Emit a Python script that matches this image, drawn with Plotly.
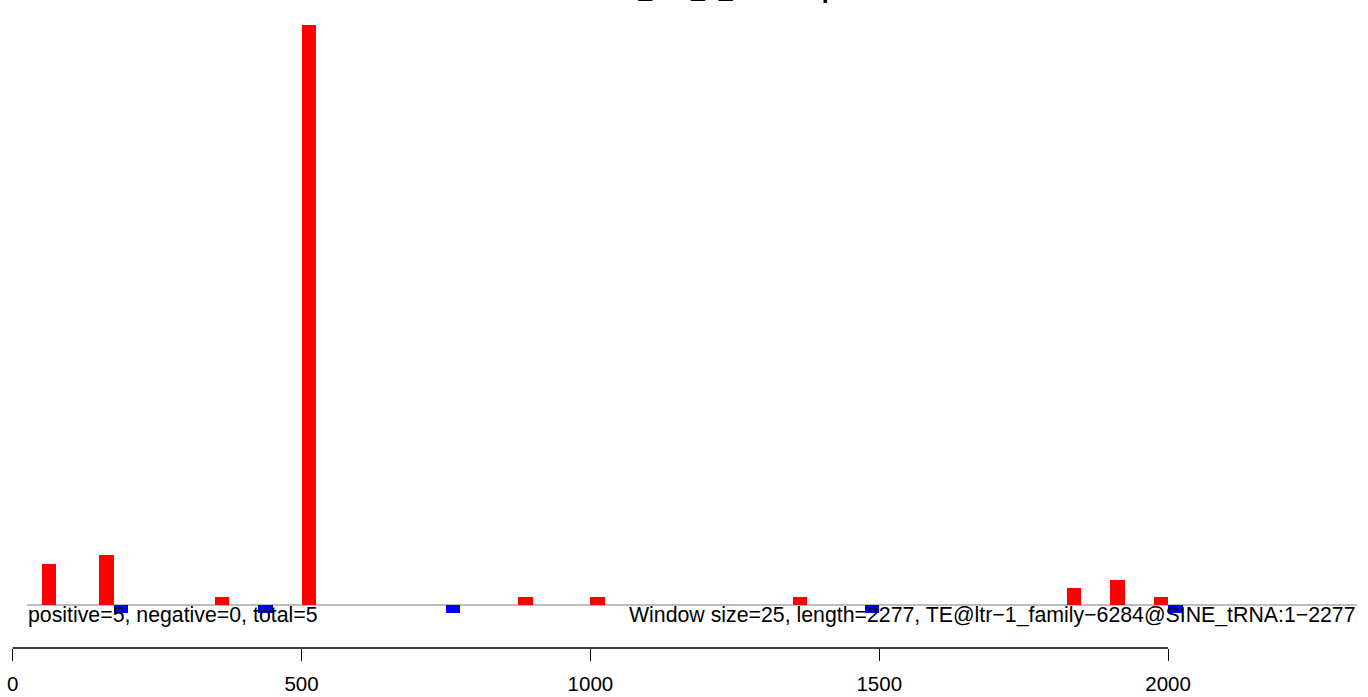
import plotly.graph_objects as go

# ---- data ----
window_size = 25
pos_starts = [50, 150, 350, 500, 875, 1000, 1350, 1825, 1900, 1975]
pos_values = [5, 6, 1, 70, 1, 1, 1, 2, 3, 1]
neg_starts = [175, 425, 750, 1475, 2000]
neg_values = [-1, -1, -1, -1, -1]
tick_values = [0, 500, 1000, 1500, 2000]
tick_labels = ["0", "500", "1000", "1500", "2000"]
title_text = "smRNA_WT_1_reads up"
left_note = "positive=5, negative=0, total=5"
right_note = "Window size=25, length=2277, TE@ltr\u22121_family\u22126284@SINE_tRNA:1\u22122277"
seq_length = 2277

pos_centers = [s + window_size / 2 for s in pos_starts]
neg_centers = [s + window_size / 2 for s in neg_starts]

W, H = 1368, 697
plot_bottom_px = 648          # axis line position
x0_px, scale = 12.7, 0.5777   # px of value 0, px per unit
x_range = [-x0_px / scale, (W - x0_px) / scale]
base_px = 605
y_unit = 8.29
y_range = [-(plot_bottom_px - base_px) / y_unit, base_px / y_unit]

def px_to_xval(px):
    return (px - x0_px) / scale

def py_to_paper(py):
    return (plot_bottom_px - py) / plot_bottom_px

fig = go.Figure()
fig.add_trace(go.Bar(x=pos_centers, y=pos_values, width=window_size,
                     marker=dict(color="#FF0000", line=dict(width=0)),
                     hoverinfo="skip", showlegend=False))
fig.add_trace(go.Bar(x=neg_centers, y=neg_values, width=window_size,
                     marker=dict(color="#0000FF", line=dict(width=0)),
                     hoverinfo="skip", showlegend=False))

# zero baseline across the plot region
fig.add_shape(type="line", xref="x", yref="y",
              x0=px_to_xval(27), x1=px_to_xval(1357), y0=0, y1=0,
              line=dict(color="#7a7a7a", width=1.2), layer="below")
# axis line from 0 to 2000
fig.add_shape(type="line", xref="x", yref="paper",
              x0=tick_values[0], x1=tick_values[-1], y0=0, y1=0,
              line=dict(color="black", width=1.4))

font_family = "Liberation Sans, Arial, Helvetica, sans-serif"
fig.add_annotation(x=px_to_xval(27), y=py_to_paper(614.6), xref="x", yref="paper",
                   text=left_note, showarrow=False, xanchor="left", yanchor="middle",
                   font=dict(family=font_family, size=21.3, color="black"), borderpad=0)
fig.add_annotation(x=px_to_xval(1357), y=py_to_paper(614.6), xref="x", yref="paper",
                   text=right_note, showarrow=False, xanchor="right", yanchor="middle",
                   font=dict(family=font_family, size=21.3, color="black"), borderpad=0)
fig.add_annotation(x=px_to_xval(692), y=py_to_paper(-11.3), xref="x", yref="paper",
                   text="<b>" + title_text + "</b>", showarrow=False,
                   xanchor="center", yanchor="middle",
                   font=dict(family=font_family, size=25, color="black"), borderpad=0)

fig.update_layout(
    width=W, height=H,
    margin=dict(l=0, r=0, t=0, b=H - plot_bottom_px, pad=0),
    paper_bgcolor="white", plot_bgcolor="white",
    barmode="overlay", bargap=0,
    xaxis=dict(range=x_range, showgrid=False, zeroline=False, showline=False,
               tickmode="array", tickvals=tick_values, ticktext=tick_labels,
               ticks="outside", ticklen=12, tickwidth=1.4, tickcolor="black",
               ticklabelstandoff=5,
               tickfont=dict(family=font_family, size=20.5, color="black"),
               fixedrange=True),
    yaxis=dict(range=y_range, showgrid=False, zeroline=False, showline=False,
               showticklabels=False, ticks="", fixedrange=True),
)

fig.write_html("out.html", config={"displayModeBar": False},
               post_script="document.body.style.margin='0';document.body.style.overflow='hidden';")
